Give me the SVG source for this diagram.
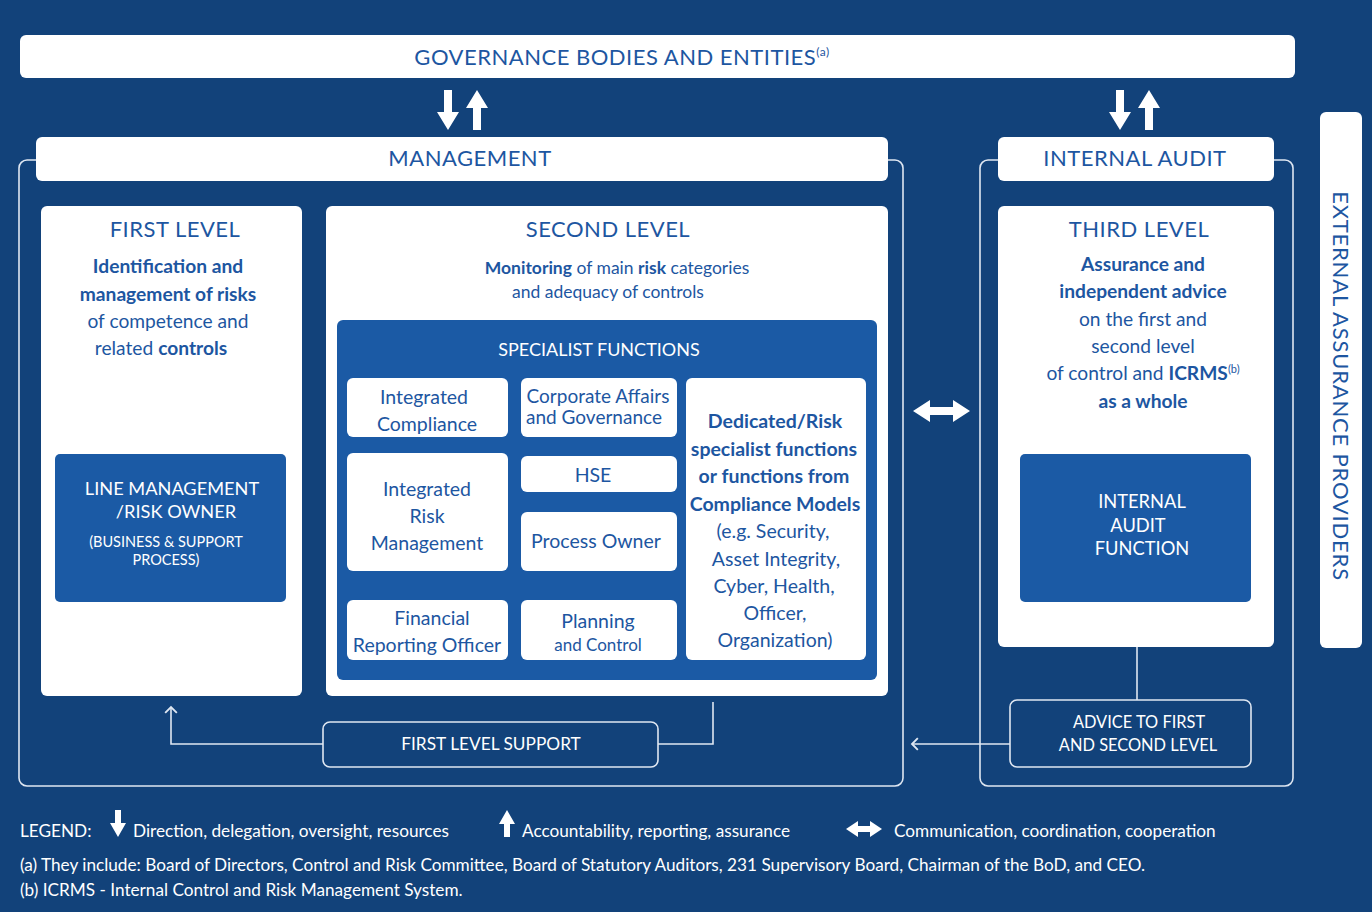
<svg xmlns="http://www.w3.org/2000/svg" width="1372" height="912" viewBox="0 0 1372 912">
<style>
text{font-family:Lato,"Open Sans","Liberation Sans",sans-serif}
.wb{fill:#ffffff}
.bb{fill:#1b5aa5}
.ol{fill:none;stroke:#dfe7f2;stroke-width:1.6}
.t{fill:#1d56a1;text-anchor:middle}
.w{fill:#ffffff;text-anchor:middle}
.h{font-size:22px;letter-spacing:0.5px}
.s{font-size:17.5px}
.m{font-size:19.2px}
.f{font-size:19.5px}
.b{font-weight:bold}
.lg{fill:#ffffff;font-size:17.2px}
</style>
<defs>
<marker id="open" viewBox="0 0 12 12" refX="6" refY="6" markerWidth="14" markerHeight="14" markerUnits="userSpaceOnUse" orient="auto">
<path d="M1,1 L6,6 L1,11" fill="none" stroke="#dfe7f2" stroke-width="1.6"/>
</marker>
</defs>
<rect x="0" y="0" width="1372" height="912" fill="#12427a"/>

<g id="governance">
<rect class="wb" x="20" y="35" width="1275" height="43" rx="6"/>
<text class="t h" x="622" y="65">GOVERNANCE BODIES AND ENTITIES<tspan font-size="12" dy="-9">(a)</tspan></text>
</g>

<g id="management">
<rect class="ol" x="19" y="160" width="884" height="626" rx="8"/>
<rect class="wb" x="36" y="137" width="852" height="44" rx="6"/>
<text class="t h" x="470" y="166">MANAGEMENT</text>
</g>

<g id="first-level">
<rect class="wb" x="41" y="206" width="261" height="490" rx="6"/>
<text class="t h" x="175" y="237">FIRST LEVEL</text>
<text class="t m b" x="168" y="273">Identification and</text>
<text class="t m b" x="168" y="301">management of risks</text>
<text class="t m" x="168" y="328">of competence and</text>
<text class="t m" x="161" y="355">related <tspan font-weight="bold">controls</tspan></text>
</g>

<g id="line-management">
<rect class="bb" x="55" y="454" width="231" height="148" rx="5"/>
<text class="w" font-size="18.2" x="172" y="495">LINE MANAGEMENT</text>
<text class="w" font-size="18.2" x="176" y="518">/RISK OWNER</text>
<text class="w" font-size="14.5" x="166" y="547">(BUSINESS &amp; SUPPORT</text>
<text class="w" font-size="14.5" x="166" y="565">PROCESS)</text>
</g>

<g id="second-level">
<rect class="wb" x="326" y="206" width="562" height="490" rx="6"/>
<text class="t h" x="608" y="237">SECOND LEVEL</text>
<text class="t s" x="617" y="274"><tspan font-weight="bold">Monitoring</tspan> of main <tspan font-weight="bold">risk</tspan> categories</text>
<text class="t s" x="608" y="298">and adequacy of controls</text>
</g>

<g id="specialist-functions">
<rect class="bb" x="337" y="320" width="540" height="360" rx="6"/>
<text class="w" font-size="18" x="599" y="356">SPECIALIST FUNCTIONS</text>
</g>

<g id="integrated-compliance">
<rect class="wb" x="347" y="378" width="161" height="59" rx="6"/>
<text class="t f" x="424" y="404">Integrated</text>
<text class="t f" x="427" y="431">Compliance</text>
</g>

<g id="corporate-affairs">
<rect class="wb" x="521" y="378" width="156" height="59" rx="6"/>
<text class="t" font-size="19" x="598" y="403">Corporate Affairs</text>
<text class="t" font-size="19" x="594" y="424">and Governance</text>
</g>

<g id="integrated-risk">
<rect class="wb" x="347" y="453" width="161" height="118" rx="6"/>
<text class="t f" x="427" y="496">Integrated</text>
<text class="t f" x="427" y="523">Risk</text>
<text class="t f" x="427" y="550">Management</text>
</g>

<g id="hse">
<rect class="wb" x="521" y="456" width="156" height="36" rx="6"/>
<text class="t f" x="593" y="482">HSE</text>
</g>

<g id="process-owner">
<rect class="wb" x="521" y="512" width="156" height="59" rx="6"/>
<text class="t f" x="596" y="548">Process Owner</text>
</g>

<g id="financial-reporting">
<rect class="wb" x="347" y="600" width="161" height="60" rx="6"/>
<text class="t f" x="432" y="625">Financial</text>
<text class="t f" x="427" y="652">Reporting Officer</text>
</g>

<g id="planning-control">
<rect class="wb" x="521" y="600" width="156" height="60" rx="6"/>
<text class="t f" x="598" y="628">Planning</text>
<text class="t" font-size="17" x="598" y="651">and Control</text>
</g>

<g id="dedicated">
<rect class="wb" x="686" y="378" width="180" height="282" rx="6"/>
<text class="t f b" x="775" y="428">Dedicated/Risk</text>
<text class="t f b" x="774" y="456">specialist functions</text>
<text class="t f b" x="774" y="483">or functions from</text>
<text class="t f b" x="775" y="511">Compliance Models</text>
<text class="t f" x="773" y="538">(e.g. Security,</text>
<text class="t f" x="776" y="566">Asset Integrity,</text>
<text class="t f" x="774" y="593">Cyber, Health,</text>
<text class="t f" x="775" y="620">Officer,</text>
<text class="t f" x="775" y="647">Organization)</text>
</g>

<g id="internal-audit">
<rect class="ol" x="980" y="160" width="313" height="626" rx="8"/>
<rect class="wb" x="998" y="137" width="276" height="44" rx="6"/>
<text class="t h" x="1135" y="166">INTERNAL AUDIT</text>
</g>

<g id="third-level">
<rect class="wb" x="998" y="206" width="276" height="441" rx="6"/>
<text class="t h" x="1139" y="237">THIRD LEVEL</text>
<text class="t m b" x="1143" y="271">Assurance and</text>
<text class="t m b" x="1143" y="298">independent advice</text>
<text class="t m" x="1143" y="326">on the first and</text>
<text class="t m" x="1143" y="353">second level</text>
<text class="t m" x="1143" y="380">of control and <tspan font-weight="bold">ICRMS</tspan><tspan font-size="11" dy="-7">(b)</tspan></text>
<text class="t m b" x="1143" y="408">as a whole</text>
</g>

<g id="internal-audit-function">
<rect class="bb" x="1020" y="454" width="231" height="148" rx="5"/>
<text class="w" font-size="18.3" x="1142" y="508">INTERNAL</text>
<text class="w" font-size="18.3" x="1138" y="532">AUDIT</text>
<text class="w" font-size="18.3" x="1142" y="555">FUNCTION</text>
</g>

<g id="advice">
<rect class="ol" x="1010" y="700" width="241" height="67" rx="7"/>
<text class="w" font-size="16.4" x="1139" y="728">ADVICE TO FIRST</text>
<text class="w" font-size="16.4" x="1138" y="751">AND SECOND LEVEL</text>
</g>

<g id="first-level-support">
<rect class="ol" x="323" y="722" width="335" height="45" rx="7"/>
<text class="w" font-size="17.3" x="491" y="750">FIRST LEVEL SUPPORT</text>
</g>

<g id="external-assurance">
<rect class="wb" x="1320" y="112" width="42" height="536" rx="6"/>
<text class="t" font-size="22" letter-spacing="0.8" transform="translate(1333,386) rotate(90)">EXTERNAL ASSURANCE PROVIDERS</text>
</g>

<g id="connectors">
<polygon fill="#ffffff" points="444,90 452,90 452,112 459,112 448,130 437,112 444,112"/>
<polygon fill="#ffffff" points="477,90 488,108 481,108 481,130 473,130 473,108 466,108"/>
<polygon fill="#ffffff" points="1116,90 1124,90 1124,112 1131,112 1120,130 1109,112 1116,112"/>
<polygon fill="#ffffff" points="1149,90 1160,108 1153,108 1153,130 1145,130 1145,108 1138,108"/>
<polygon fill="#ffffff" points="913,411 930,400 930,407 953,407 953,400 970,411 953,422 953,415 930,415 930,422"/>
<path class="ol" d="M1137,647 V700"/>
<path class="ol" d="M1010,744 H912" marker-end="url(#open)"/>
<path class="ol" d="M713,702 V744 H658"/>
<path class="ol" d="M323,744 H171 V707" marker-end="url(#open)"/>
</g>

<g id="legend">
<text class="lg" x="20" y="837">LEGEND:</text>
<polygon fill="#ffffff" points="115,810 121,810 121,823 126,823 118,837 110,823 115,823"/>
<text class="lg" x="133" y="837">Direction, delegation, oversight, resources</text>
<polygon fill="#ffffff" points="507,810 515,824 510,824 510,837 504,837 504,824 499,824"/>
<text class="lg" x="522" y="837">Accountability, reporting, assurance</text>
<polygon fill="#ffffff" points="846,829 858,821 858,826 870,826 870,821 882,829 870,837 870,832 858,832 858,837"/>
<text class="lg" x="894" y="837">Communication, coordination, cooperation</text>
<text class="lg" x="20" y="871">(a) They include: Board of Directors, Control and Risk Committee, Board of Statutory Auditors, 231 Supervisory Board, Chairman of the BoD, and CEO.</text>
<text class="lg" x="20" y="896">(b) ICRMS - Internal Control and Risk Management System.</text>
</g>
</svg>
